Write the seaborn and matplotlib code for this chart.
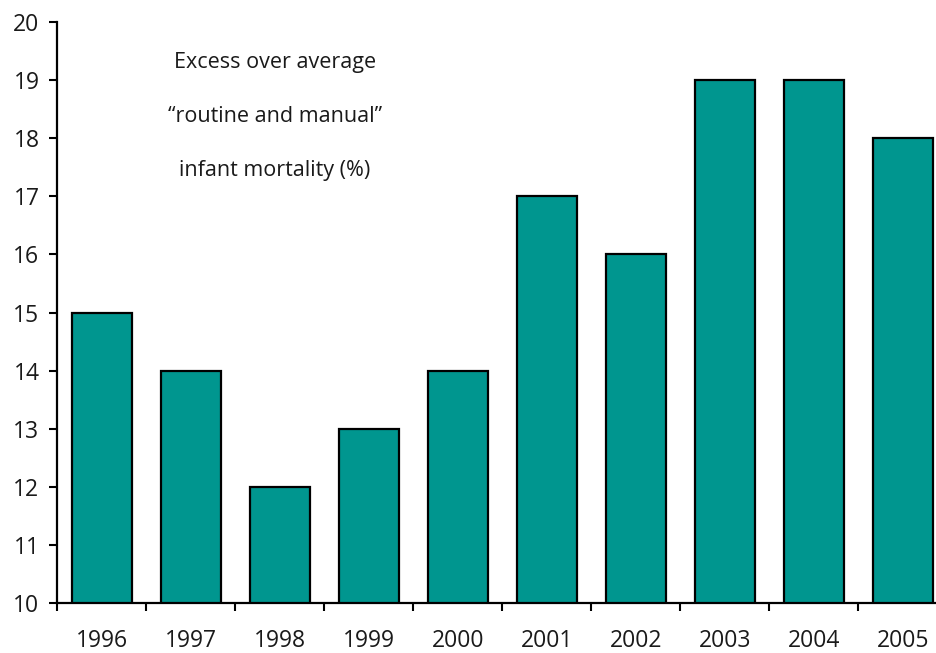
import numpy as np
import pandas as pd
import matplotlib
matplotlib.use("Agg")
import matplotlib.pyplot as plt
import seaborn as sns

years = ["1996", "1997", "1998", "1999", "2000", "2001", "2002", "2003", "2004", "2005"]
values = [15, 14, 12, 13, 14, 17, 16, 19, 19, 18]
annotation_lines = ["Excess over average", "\u201croutine and manual\u201d", "infant mortality (%)"]

sns.set_style("white")
plt.rcParams['font.family'] = ['Open Sans', 'DejaVu Sans']

fig = plt.figure(figsize=(9.37, 6.53), dpi=100)
ax = fig.add_axes([57.5/937, 1-603/653, 890/937, (603-22)/653])

df = pd.DataFrame({"year": years, "value": values})
sns.barplot(data=df, x="year", y="value", color="#00968F", saturation=1,
            edgecolor="black", linewidth=1.6, width=0.67, ax=ax)

ax.set_ylim(10, 20)
ax.set_xlim(-0.5, 9.5)
ax.set_yticks(np.arange(10, 21, 1))
ax.set_xlabel("")
ax.set_ylabel("")
ax.set_xticks(np.arange(-0.5, 10, 1), minor=True)
ax.tick_params(axis="x", which="major", length=0, pad=19, labelsize=16.5, labelcolor="#1a1a1a")
ax.tick_params(axis="x", which="minor", length=6, width=1.5, direction="out", color="black")
ax.tick_params(axis="y", which="major", length=6, width=1.5, direction="out", color="black", pad=7,
               labelsize=16.5, labelcolor="#1a1a1a")
ax.xaxis.set_ticks_position("bottom")
ax.yaxis.set_ticks_position("left")

for s in ["top", "right"]:
    ax.spines[s].set_visible(False)
for s in ["left", "bottom"]:
    ax.spines[s].set_color("black")
    ax.spines[s].set_linewidth(1.6)

for i, (line, yv) in enumerate(zip(annotation_lines, [19.31, 18.38, 17.45])):
    ax.text(1.94, yv, line, ha="center", va="center", fontsize=15.5, color="#1a1a1a")

fig.savefig("out.png", dpi=100)
